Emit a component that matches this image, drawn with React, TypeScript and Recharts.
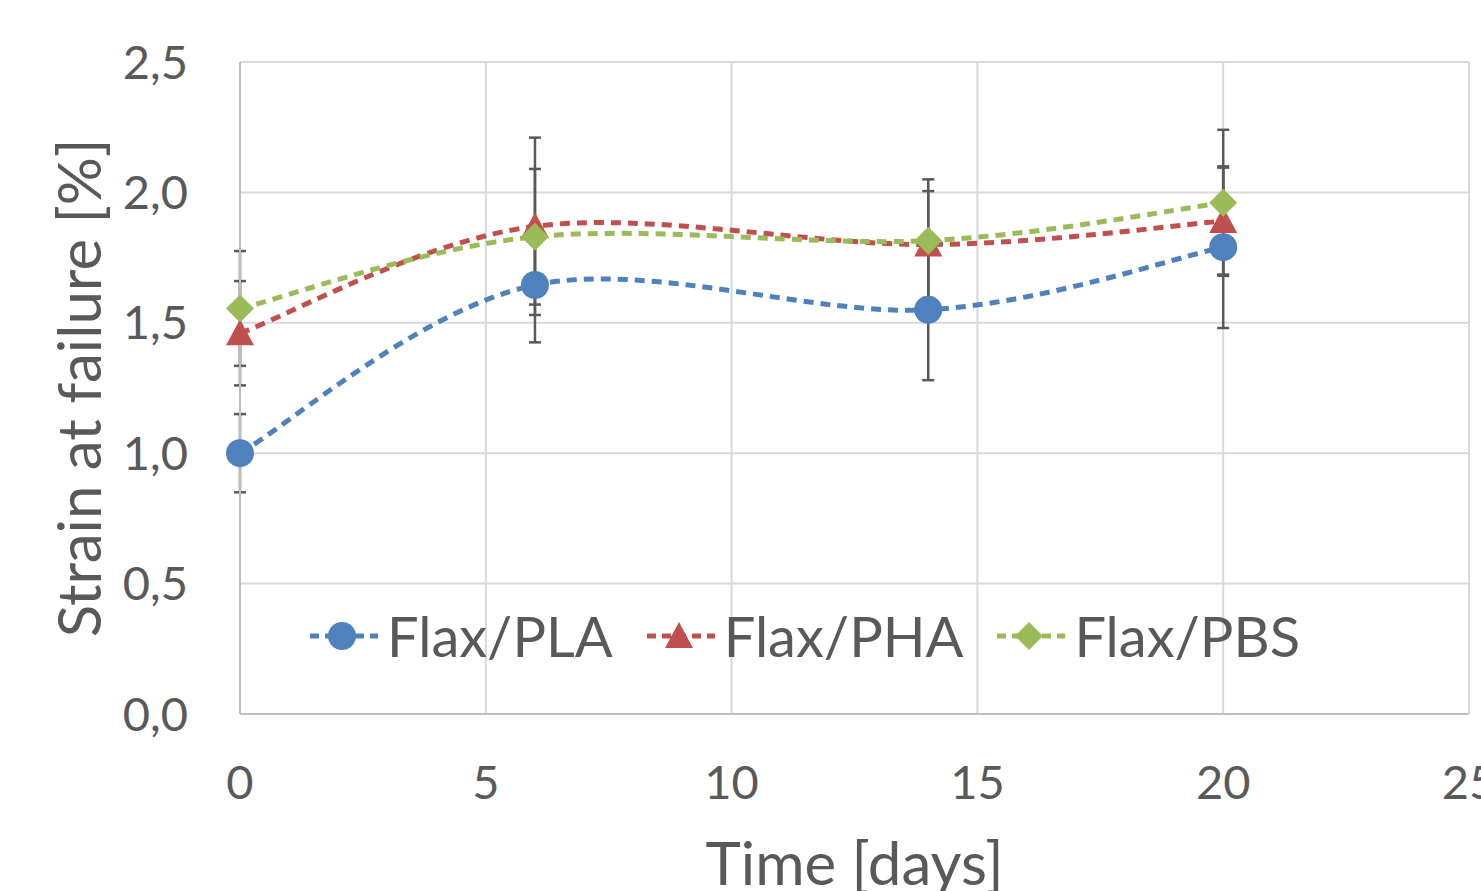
import React from 'react';
import {
  LineChart,
  Line,
  XAxis,
  YAxis,
  CartesianGrid,
  ErrorBar,
  Legend,
} from 'recharts';

const days = [0, 6, 14, 20];
const plaStrain = [1.0, 1.645, 1.55, 1.79];
const plaErr = [0.15, 0.22, 0.27, 0.31];
const phaStrain = [1.46, 1.87, 1.8, 1.89];
const phaErr = [0.2, 0.34, 0.205, 0.205];
const pbsStrain = [1.555, 1.83, 1.815, 1.96];
const pbsErr = [0.22, 0.26, 0.235, 0.28];

const xTicks = [0, 5, 10, 15, 20, 25];
const yTicks = [0, 0.5, 1, 1.5, 2, 2.5];

const series = [
  { key: 'pla', name: 'Flax/PLA', color: '#4F81BD', marker: 'circle' },
  { key: 'pha', name: 'Flax/PHA', color: '#C0504D', marker: 'triangle' },
  { key: 'pbs', name: 'Flax/PBS', color: '#9BBB59', marker: 'diamond' },
];

const data = days.map((t, i) => ({
  t,
  pla: plaStrain[i],
  plaErr: plaErr[i],
  pha: phaStrain[i],
  phaErr: phaErr[i],
  pbs: pbsStrain[i],
  pbsErr: pbsErr[i],
}));

const FONT = 'Lato, "Open Sans", sans-serif';
const TEXT = '#595959';

// Excel-style smoothed line (Catmull-Rom as bezier segments)
const smoothCurve = (context: any) => {
  let pts: number[][] = [];
  return {
    areaStart() {},
    areaEnd() {},
    lineStart() {
      pts = [];
    },
    point(x: number, y: number) {
      pts.push([+x, +y]);
    },
    lineEnd() {
      if (!pts.length) return;
      context.moveTo(pts[0][0], pts[0][1]);
      for (let i = 0; i < pts.length - 1; i++) {
        const p0 = pts[Math.max(i - 1, 0)];
        const p1 = pts[i];
        const p2 = pts[i + 1];
        const p3 = pts[Math.min(i + 2, pts.length - 1)];
        context.bezierCurveTo(
          p1[0] + (p2[0] - p0[0]) / 6,
          p1[1] + (p2[1] - p0[1]) / 6,
          p2[0] - (p3[0] - p1[0]) / 6,
          p2[1] - (p3[1] - p1[1]) / 6,
          p2[0],
          p2[1]
        );
      }
    },
  };
};

const Marker = ({ x, y, type, color, s = 14 }: any) => {
  if (type === 'circle') return <circle cx={x} cy={y} r={s} fill={color} />;
  if (type === 'triangle')
    return (
      <polygon
        points={`${x},${y - s} ${x + s},${y + s * 0.85} ${x - s},${y + s * 0.85}`}
        fill={color}
      />
    );
  return (
    <polygon
      points={`${x},${y - s} ${x + s},${y} ${x},${y + s} ${x - s},${y}`}
      fill={color}
    />
  );
};

const makeDot = (type: string, color: string) => (props: any) => {
  const { cx, cy, index } = props;
  if (cx == null || cy == null) return <g key={index} />;
  return <Marker key={index} x={cx} y={cy} type={type} color={color} />;
};

const LegendContent = () => (
  <div style={{ display: 'flex', alignItems: 'center', fontFamily: FONT }}>
    {series.map((s) => (
      <div
        key={s.key}
        style={{ display: 'flex', alignItems: 'center', marginRight: 32 }}
      >
        <svg width={72} height={40} style={{ display: 'block' }}>
          <line
            x1={2}
            x2={70}
            y1={20}
            y2={20}
            stroke={s.color}
            strokeWidth={5}
            strokeDasharray="9 6"
          />
          <Marker x={34} y={20} type={s.marker} color={s.color} />
        </svg>
        <span
          style={{
            fontSize: 56,
            color: TEXT,
            lineHeight: 1,
            marginLeft: 7,
          }}
        >
          {s.name}
        </span>
      </div>
    ))}
  </div>
);

const YTitle = ({ viewBox }: any) => {
  const cx = viewBox.x + 78;
  const cy = viewBox.y + viewBox.height / 2;
  return (
    <text
      x={cx}
      y={cy}
      transform={`rotate(-90 ${cx} ${cy})`}
      textAnchor="middle"
      dominantBaseline="central"
      fill={TEXT}
      fontSize={60}
      fontFamily={FONT}
    >
      Strain at failure [%]
    </text>
  );
};

const XTitle = ({ viewBox }: any) => (
  <text
    x={viewBox.x + viewBox.width / 2}
    y={viewBox.y + 171}
    textAnchor="middle"
    fill={TEXT}
    fontSize={60}
    fontFamily={FONT}
  >
    Time [days]
  </text>
);

const fmt = (v: number) => v.toFixed(1).replace('.', ',');

export default function App() {
  return (
    <div style={{ position: 'absolute', left: 0, top: 0, background: '#fff' }}>
      <LineChart
        width={1481}
        height={891}
        data={data}
        margin={{ top: 62, right: 12, left: 0, bottom: 0 }}
        style={{ fontFamily: FONT }}
      >
        <CartesianGrid stroke="#D9D9D9" strokeWidth={2} />
        <XAxis
          dataKey="t"
          type="number"
          domain={[0, 25]}
          ticks={xTicks}
          interval={0}
          height={177}
          tickLine={false}
          tickMargin={46}
          axisLine={{ stroke: '#BFBFBF', strokeWidth: 2 }}
          tick={{ fill: TEXT, fontSize: 47, fontFamily: FONT }}
          label={{ content: XTitle }}
        />
        <YAxis
          type="number"
          domain={[0, 2.5]}
          ticks={yTicks}
          interval={0}
          width={240}
          tickLine={false}
          tickMargin={46}
          tickFormatter={fmt}
          axisLine={{ stroke: '#BFBFBF', strokeWidth: 2 }}
          tick={{ fill: TEXT, fontSize: 47, fontFamily: FONT }}
          label={{ content: YTitle }}
        />
        <Legend
          verticalAlign="middle"
          align="center"
          content={LegendContent}
          wrapperStyle={{ top: 608, left: 308, width: 1100 }}
        />
        {series.map((s) => (
          <Line
            key={s.key}
            dataKey={s.key}
            name={s.name}
            type={smoothCurve as any}
            stroke={s.color}
            strokeWidth={5}
            strokeDasharray="10 7"
            dot={makeDot(s.marker, s.color)}
            activeDot={false}
            isAnimationActive={false}
          >
            <ErrorBar
              dataKey={`${s.key}Err`}
              direction="y"
              width={6}
              stroke="#595959"
              strokeWidth={2.5}
            />
          </Line>
        ))}
      </LineChart>
    </div>
  );
}
